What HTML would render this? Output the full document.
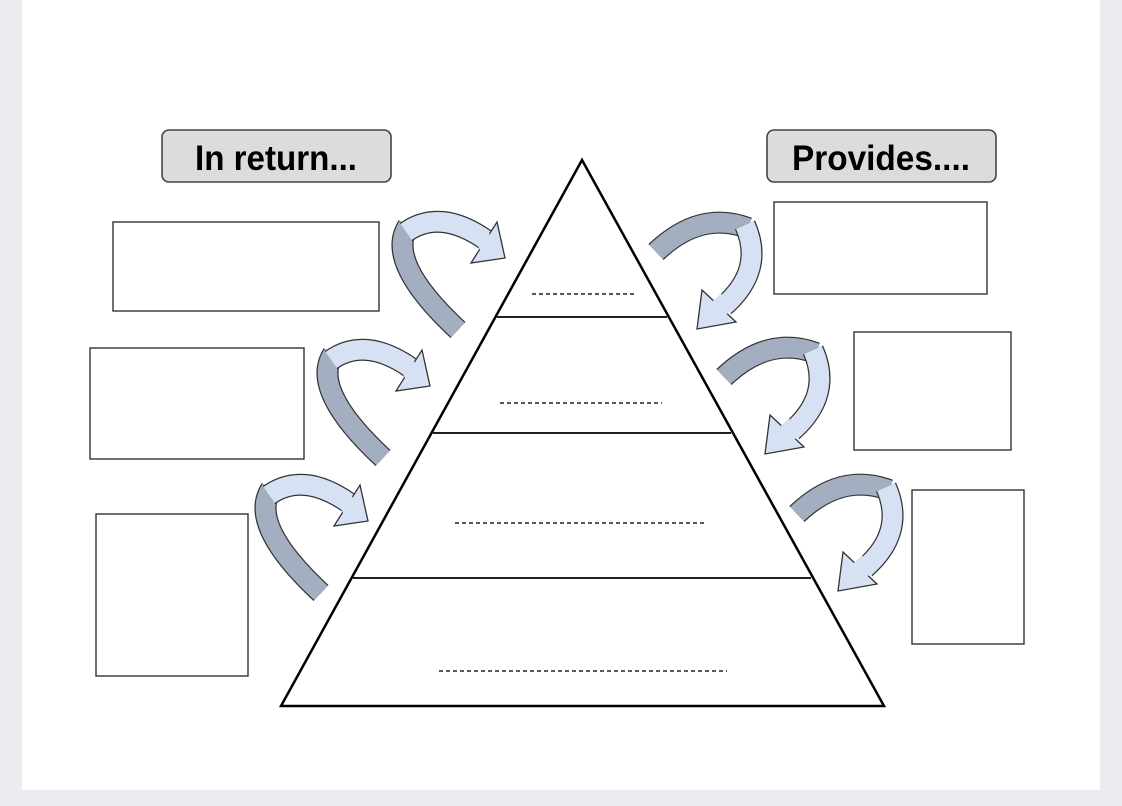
<!DOCTYPE html>
<html><head><meta charset="utf-8"><style>
html,body{margin:0;padding:0;background:#ececf0;}
svg{display:block}
</style></head><body>
<svg width="1122" height="806" viewBox="0 0 1122 806" xmlns="http://www.w3.org/2000/svg">
<defs>
<g id="la">
  <path d="M458,330 Q385,262 408,226" fill="none" stroke="#333" stroke-width="22"/>
  <path d="M458,330 Q385,262 408,226" fill="none" stroke="#a3afc0" stroke-width="19.5"/>
  <path d="M406,232 Q440,208 486,240" fill="none" stroke="#333" stroke-width="22"/>
  <path d="M406,232 Q440,208 486,240" fill="none" stroke="#d6e2f3" stroke-width="19.5"/>
  <polygon points="497,222 505,258 471,263" fill="#d6e2f3" stroke="#333" stroke-width="1.3"/>
  <line x1="479" y1="232" x2="490" y2="251" stroke="#d6e2f3" stroke-width="16"/>
</g>
<g id="ra">
  <path d="M656,252 Q700,210 748,228" fill="none" stroke="#333" stroke-width="22"/>
  <path d="M656,252 Q700,210 748,228" fill="none" stroke="#a3afc0" stroke-width="19.5"/>
  <path d="M745,225 Q765,270 724,306" fill="none" stroke="#333" stroke-width="22"/>
  <path d="M745,225 Q765,270 724,306" fill="none" stroke="#d6e2f3" stroke-width="19.5"/>
  <polygon points="702,290 736,322 697,329" fill="#d6e2f3" stroke="#333" stroke-width="1.3"/>
  <line x1="715" y1="299" x2="728" y2="313" stroke="#d6e2f3" stroke-width="16"/>
</g>
</defs>
<rect x="22" y="0" width="1078" height="790" fill="#fff"/>
<polygon points="582,160 281,706 884,706" fill="#fff" stroke="#000" stroke-width="2.5"/>
<g stroke="#000" stroke-width="1.8">
<line x1="497" y1="317" x2="667" y2="317"/>
<line x1="433" y1="433" x2="731" y2="433"/>
<line x1="353" y1="578" x2="811" y2="578"/>
</g>
<g stroke="#222" stroke-width="1.4" stroke-dasharray="4,3">
<line x1="532" y1="294" x2="634" y2="294"/>
<line x1="500" y1="403" x2="662" y2="403"/>
<line x1="455" y1="523" x2="706" y2="523"/>
<line x1="439" y1="671" x2="727" y2="671"/>
</g>
<rect x="162" y="130" width="229" height="52" rx="7" fill="#dcdcdc" stroke="#444" stroke-width="1.6"/>
<rect x="767" y="130" width="229" height="52" rx="7" fill="#dcdcdc" stroke="#444" stroke-width="1.6"/>
<text x="195" y="170" font-family="Liberation Sans, sans-serif" font-weight="bold" font-size="35" textLength="162" lengthAdjust="spacingAndGlyphs">In return...</text>
<text x="792" y="170" font-family="Liberation Sans, sans-serif" font-weight="bold" font-size="35" textLength="178" lengthAdjust="spacingAndGlyphs">Provides....</text>
<g fill="#fff" stroke="#333" stroke-width="1.4">
<rect x="113" y="222" width="266" height="89"/>
<rect x="90" y="348" width="214" height="111"/>
<rect x="96" y="514" width="152" height="162"/>
<rect x="774" y="202" width="213" height="92"/>
<rect x="854" y="332" width="157" height="118"/>
<rect x="912" y="490" width="112" height="154"/>
</g>
<use href="#la"/>
<use href="#la" transform="translate(-75,128)"/>
<use href="#la" transform="translate(-137,263)"/>
<use href="#ra"/>
<use href="#ra" transform="translate(68,125)"/>
<use href="#ra" transform="translate(141,262)"/>
</svg>
</body></html>
